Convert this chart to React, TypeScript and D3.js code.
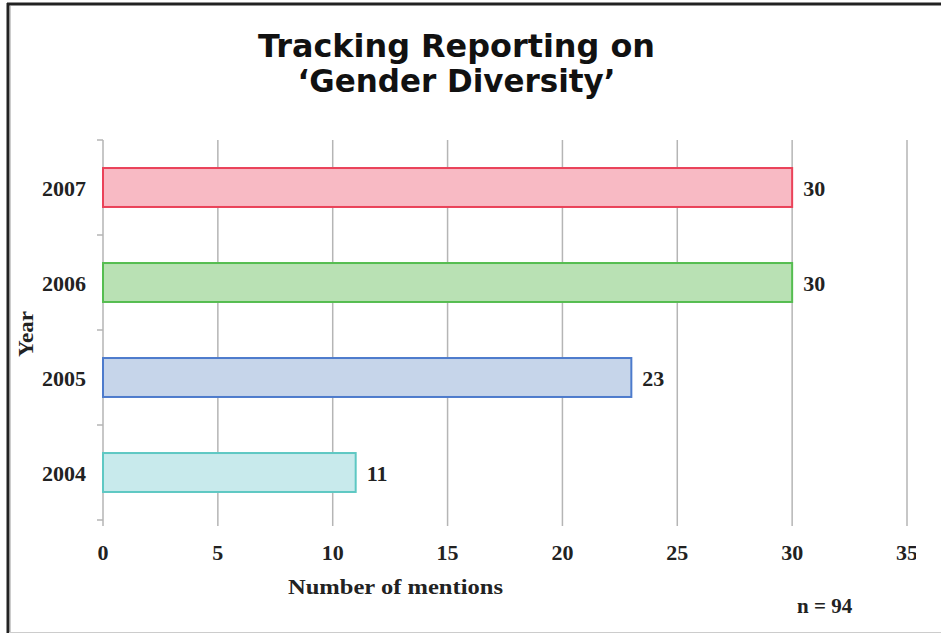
import React from "react";
import * as d3 from "d3";

const years = ["2007", "2006", "2005", "2004"];
const mentions = [30, 30, 23, 11];
const fills = ["#f8bac4", "#b9e1b4", "#c6d5ea", "#c8eaec"];
const strokes = ["#ea4259", "#55bd50", "#4d7bcc", "#5ec8c3"];
const xTicks = [0, 5, 10, 15, 20, 25, 30, 35];
const titleLines = ["Tracking Reporting on", "\u2018Gender Diversity\u2019"];
const xLabel = "Number of mentions";
const yLabel = "Year";
const note = "n = 94";

export default function App() {
  const W = 941;
  const H = 634;
  const x = d3.scaleLinear().domain([0, 35]).range([103, 907]);
  const y = d3
    .scaleBand<string>()
    .domain(years)
    .range([140, 520])
    .paddingInner(0.59)
    .paddingOuter(0.295);
  const step = y.step();
  const boundaries = d3.range(years.length + 1).map((i) => 140 + i * step);
  const serif = "'Liberation Serif', 'Times New Roman', serif";
  const gridTop = 140;
  const gridBottom = 526;

  return (
    <svg
      width={W}
      height={H}
      style={{ position: "absolute", left: 0, top: 0, background: "#fff" }}
    >
      <rect x={0} y={0} width={W} height={H} fill="#fff" />
      {/* frame */}
      <line x1={7} x2={941} y1={4} y2={4} stroke="#222" strokeWidth={3} />
      <line x1={8} x2={8} y1={3} y2={633} stroke="#222" strokeWidth={3} />
      <line x1={10} x2={10} y1={6} y2={633} stroke="#999" strokeWidth={1} />
      <line x1={9} x2={941} y1={632.5} y2={632.5} stroke="#ccc" strokeWidth={1} />

      {/* title */}
      {titleLines.map((t, i) => (
        <text
          key={t}
          x={456.5}
          y={57 + i * 35}
          textAnchor="middle"
          fontFamily="'DejaVu Sans', Verdana, sans-serif"
          fontWeight="bold"
          fontSize={32}
          textLength={i === 0 ? 397 : 318}
          lengthAdjust="spacingAndGlyphs"
          fill="#111"
        >
          {t}
        </text>
      ))}

      {/* grid lines */}
      {xTicks.map((t) => (
        <line
          key={t}
          x1={x(t)}
          x2={x(t)}
          y1={gridTop}
          y2={gridBottom}
          stroke="#b5b5b5"
          strokeWidth={1.5}
        />
      ))}
      {/* y ticks */}
      {boundaries.map((b, i) => (
        <line
          key={i}
          x1={97}
          x2={103}
          y1={b}
          y2={b}
          stroke="#b5b5b5"
          strokeWidth={1.5}
        />
      ))}

      {/* bars */}
      {years.map((yr, i) => (
        <g key={yr}>
          <rect
            x={x(0)}
            y={y(yr)}
            width={x(mentions[i]) - x(0)}
            height={y.bandwidth()}
            fill={fills[i]}
            stroke={strokes[i]}
            strokeWidth={2}
          />
          <text
            x={x(mentions[i]) + 11}
            y={(y(yr) as number) + y.bandwidth() / 2 + 8}
            fontFamily={serif}
            fontWeight="bold"
            fontSize={22}
            fill="#222"
          >
            {mentions[i]}
          </text>
          <text
            x={86}
            y={(y(yr) as number) + y.bandwidth() / 2 + 8}
            textAnchor="end"
            fontFamily={serif}
            fontWeight="bold"
            fontSize={22}
            fill="#222"
          >
            {yr}
          </text>
        </g>
      ))}

      {/* x tick labels */}
      {xTicks.map((t) => (
        <text
          key={t}
          x={x(t)}
          y={560}
          textAnchor="middle"
          fontFamily={serif}
          fontWeight="bold"
          fontSize={22}
          fill="#222"
        >
          {t}
        </text>
      ))}

      <text
        x={395.5}
        y={594}
        textAnchor="middle"
        fontFamily={serif}
        fontWeight="bold"
        fontSize={22}
        textLength={215}
        lengthAdjust="spacingAndGlyphs"
        fill="#222"
      >
        {xLabel}
      </text>
      <text
        transform="translate(33,334) rotate(-90)"
        textAnchor="middle"
        fontFamily={serif}
        fontWeight="bold"
        fontSize={22}
        textLength={46}
        lengthAdjust="spacingAndGlyphs"
        fill="#222"
      >
        {yLabel}
      </text>
      <text
        x={797}
        y={613}
        fontFamily={serif}
        fontWeight="bold"
        fontSize={21}
        fill="#222"
      >
        {note}
      </text>
      {/* clip the right edge like the reference */}
      <rect x={916} y={530} width={25} height={40} fill="#fff" />
    </svg>
  );
}
